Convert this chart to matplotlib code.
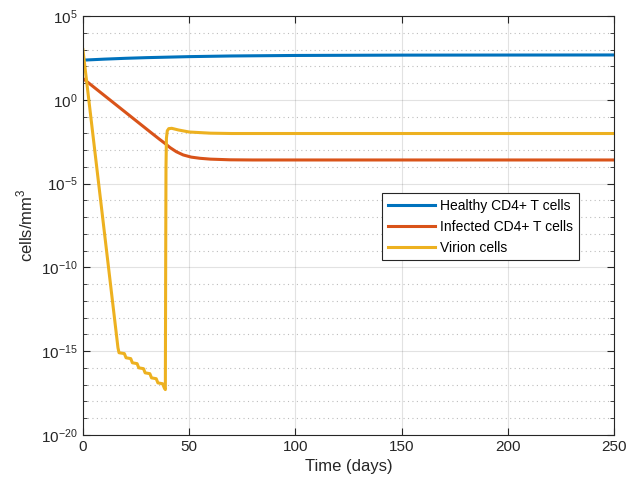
import numpy as np
import matplotlib
matplotlib.use('Agg')
import matplotlib.pyplot as plt
from matplotlib.ticker import FixedLocator, NullFormatter, LogFormatterMathtext

# values (log10 of cells/mm^3)
t_healthy = [0, 5, 10, 20, 30, 40, 50, 70, 100, 150, 250]
log_healthy = [2.37, 2.40, 2.43, 2.48, 2.52, 2.55, 2.58, 2.62, 2.65, 2.67, 2.68]

t_infected = [0, 31.5, 36, 38.6, 41, 44, 47.2, 51, 55.1, 60, 69.2, 80, 250]
log_infected = [1.28, -1.90, -2.35, -2.60, -2.85, -3.10, -3.29, -3.42, -3.49, -3.54, -3.58, -3.59, -3.59]

t_virion = [0, 16.5, 17.0, 19.5, 20.3, 22.5, 23.3, 25.5, 26.3, 28.5, 29.3, 31.5, 32.3,
            34.5, 35.3, 37.5, 38.3, 38.8, 38.95, 39.1, 39.3, 39.7, 40.4, 41.8, 45, 50, 60, 70, 250]
log_virion = [3.0, -14.8, -15.1, -15.15, -15.4, -15.45, -15.7, -15.75, -16.0, -16.05, -16.3, -16.35, -16.6,
              -16.65, -16.9, -16.95, -17.2, -17.3, -10.0, -4.0, -2.3, -1.85, -1.72, -1.70, -1.80, -1.92, -1.99, -2.01, -2.01]

labels = ['Healthy CD4+ T cells', 'Infected CD4+ T cells', 'Virion cells']
colors = ['#0072BD', '#D95319', '#EDB120']

plt.rcParams['font.family'] = ['Liberation Sans', 'DejaVu Sans']
plt.rcParams['mathtext.fontset'] = 'custom'
plt.rcParams['mathtext.rm'] = 'Liberation Sans'

fig = plt.figure(figsize=(6.28, 4.88), dpi=100)
ax = fig.add_axes([0.132, 0.109, 0.846, 0.858])

ax.plot(t_healthy, 10 ** np.array(log_healthy), color=colors[0], lw=2.2, label=labels[0])
ax.plot(t_infected, 10 ** np.array(log_infected), color=colors[1], lw=2.2, label=labels[1])
ax.plot(t_virion, 10 ** np.array(log_virion), color=colors[2], lw=2.2, label=labels[2])

ax.set_yscale('log')
ax.set_xlim(0, 250)
ax.set_ylim(1e-20, 1e5)
ax.set_xticks([0, 50, 100, 150, 200, 250])
ax.yaxis.set_major_locator(FixedLocator([10.0 ** k for k in range(-20, 6, 5)]))
ax.yaxis.set_major_formatter(LogFormatterMathtext())
ax.yaxis.set_minor_locator(FixedLocator([10.0 ** k for k in range(-20, 6) if k % 5 != 0]))
ax.yaxis.set_minor_formatter(NullFormatter())

ax.grid(True, which='major', color='#262626', alpha=0.13, lw=0.8)
ax.grid(True, which='minor', axis='y', color='#262626', alpha=0.3, lw=0.8, ls=(0, (1, 3)))
ax.tick_params(which='both', direction='in', top=True, right=True, labelsize=11, colors='#262626')
ax.tick_params(which='major', length=5)
ax.tick_params(which='minor', length=3)
for s in ax.spines.values():
    s.set_color('#262626')

ax.set_xlabel('Time (days)', fontsize=12, color='#262626')
ax.set_ylabel('cells/mm$^3$', fontsize=12, color='#262626')

leg = ax.legend(loc='upper left', bbox_to_anchor=(0.563, 0.577), fontsize=10,
                fancybox=False, framealpha=1, edgecolor='#262626', handlelength=3.4,
                handletextpad=0.4, borderpad=0.4, labelspacing=0.5, borderaxespad=0)
leg.get_frame().set_linewidth(0.8)

fig.savefig('out.png', dpi=100)
